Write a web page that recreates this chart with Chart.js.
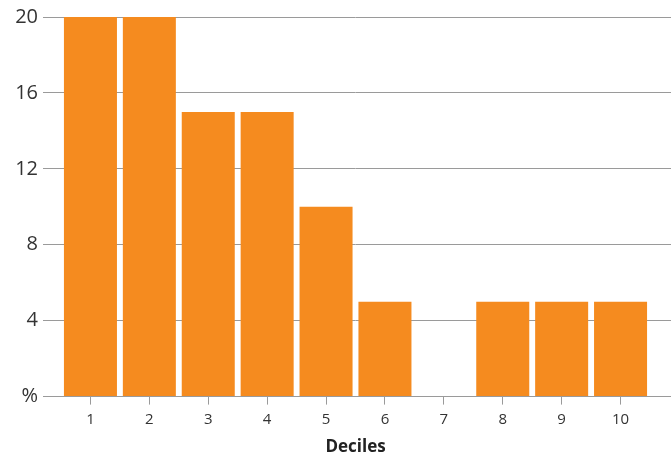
<!DOCTYPE html>
<html>
<head>
<meta charset="utf-8">
<script src="https://cdn.jsdelivr.net/npm/chart.js@4.4.1/dist/chart.umd.min.js"></script>
<style>
  html, body { margin: 0; padding: 0; background: #fff; }
  #wrap { width: 671px; height: 460px; }
</style>
</head>
<body>
<div id="wrap"><canvas id="chart"></canvas></div>
<script>
// deciles on x, share in % on y
const deciles = ['1', '2', '3', '4', '5', '6', '7', '8', '9', '10'];
const shares = [20, 20, 15, 15, 10, 5, 0, 5, 5, 5];
const yTicks = [0, 4, 8, 12, 16, 20];

const gridGrey = '#9a9a9a';
const textDark = '#333333';
const orange = '#F58B1F';

var ctx = document.getElementById('chart').getContext('2d');
var chart = new Chart(ctx, {
    type: 'bar',
    data: {
        labels: deciles,
        datasets: [{
            data: shares,
            backgroundColor: orange,
            borderWidth: 0,
            barPercentage: 0.9,
            categoryPercentage: 1.0
        }]
    },
    options: {
        responsive: true,
        maintainAspectRatio: false,
        animation: false,
        layout: { padding: { top: 9, left: 0, right: 0, bottom: 3 } },
        plugins: {
            legend: { display: false },
            tooltip: { enabled: false }
        },
        scales: {
            x: {
                grid: {
                    offset: false,
                    drawOnChartArea: false,
                    tickLength: 8,
                    color: gridGrey
                },
                border: { display: true, color: gridGrey },
                ticks: {
                    color: textDark,
                    font: { family: 'Open Sans', size: 15 },
                    padding: 6,
                    maxRotation: 0
                },
                title: {
                    display: true,
                    text: 'Deciles',
                    color: '#222',
                    font: { family: 'Open Sans', size: 17, weight: 'bold' },
                    padding: { top: 2, bottom: 0 }
                }
            },
            y: {
                min: 0,
                max: 20,
                afterFit: function (scale) { scale.width = 61; },
                afterBuildTicks: function (scale) {
                    scale.ticks = yTicks.map(v => ({ value: v }));
                },
                grid: { color: gridGrey, tickLength: 18 },
                border: { display: false },
                ticks: {
                    color: textDark,
                    font: { family: 'Open Sans', size: 20 },
                    padding: 5,
                    callback: function (value) { return value === 0 ? '%' : value; }
                }
            },
            // right-hand axis only to run the gridlines out to the edge
            y2: {
                position: 'right',
                min: 0,
                max: 20,
                afterFit: function (scale) { scale.width = 21; },
                afterBuildTicks: function (scale) {
                    scale.ticks = yTicks.map(v => ({ value: v }));
                },
                grid: { color: gridGrey, tickLength: 21, drawOnChartArea: false },
                border: { display: false },
                ticks: { display: false }
            }
        }
    }
});
</script>
</body>
</html>
